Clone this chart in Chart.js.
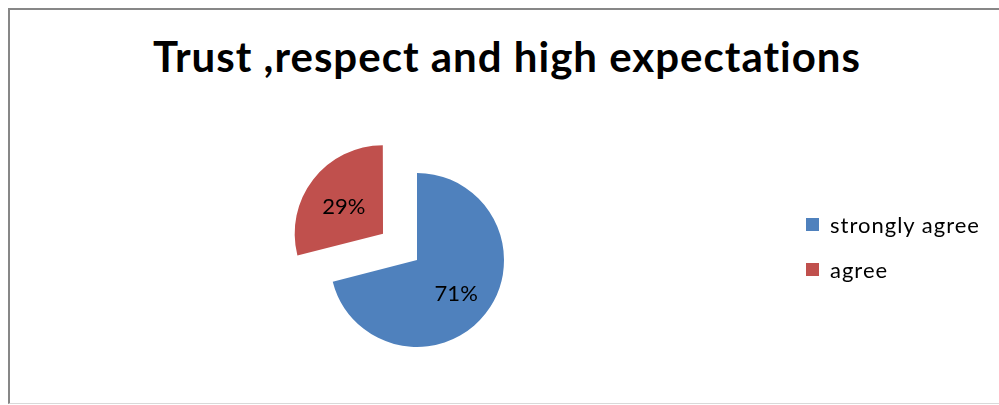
<!DOCTYPE html>
<html>
<head>
<meta charset="utf-8">
<script src="https://cdn.jsdelivr.net/npm/chart.js@4/dist/chart.umd.min.js"></script>
<style>
  html, body { margin: 0; padding: 0; background: #fff; }
  #frame {
    position: absolute; left: 8px; top: 8px; width: 1000px; height: 393px;
    border-left: 2px solid #878787; border-top: 2px solid #878787;
    border-bottom: 1px solid #d9d9d9;
  }
  #chart-title {
    position: absolute; left: 15px; top: 35px; width: 984px;
    text-align: center; font: bold 42px/42px Lato, sans-serif; letter-spacing: 1px; color: #000;
  }
  #pie-chart { position: absolute; left: 0; top: 0; }
  #pie-legend {
    position: absolute; left: 806px; top: 213px; margin: 0; padding: 0;
    list-style: none; font: 22px/23px Lato, sans-serif; letter-spacing: 1px; color: #000;
  }
  #pie-legend li { display: flex; align-items: center; height: 23px; margin-bottom: 22px; }
  #pie-legend .box { display: inline-block; width: 13px; height: 13px; margin-right: 11px; }
</style>
</head>
<body>
<div id="frame"></div>
<div id="chart-title"></div>
<canvas id="pie-chart" width="999" height="405"></canvas>
<ul id="pie-legend"></ul>
<script>
const chartTitle = "Trust ,respect and high expectations";
const categories = ["strongly agree", "agree"];
const percents = [71, 29];
const sliceColors = ["#4F81BD", "#C0504D"];
// Chart.js menggeser irisan sejauh offset / 4 piksel
const sliceOffsets = [0, 172];

document.getElementById("chart-title").textContent = chartTitle;

// Tulis persentase di dalam tiap irisan
const sliceLabels = {
  id: "sliceLabels",
  afterDatasetsDraw(chart) {
    const ctx = chart.ctx;
    const meta = chart.getDatasetMeta(0);
    ctx.save();
    ctx.font = "22px Lato";
    ctx.fillStyle = "#000";
    ctx.textAlign = "center";
    ctx.textBaseline = "alphabetic";
    meta.data.forEach((arc, i) => {
      const p = arc.getProps(["x", "y", "startAngle", "endAngle", "outerRadius"], true);
      const mid = (p.startAngle + p.endAngle) / 2;
      const dist = (arc.options.offset || 0) / 4 + p.outerRadius * 0.57;
      // baseline kira-kira setengah tinggi angka di bawah titik tengah
      ctx.fillText(percents[i] + "%", p.x + Math.cos(mid) * dist, p.y + Math.sin(mid) * dist + 11);
    });
    ctx.restore();
  },
};

// Legend HTML dari item legend bawaan chart
const htmlLegend = {
  id: "htmlLegend",
  afterUpdate(chart) {
    const ul = document.getElementById("pie-legend");
    ul.innerHTML = "";
    const items = chart.options.plugins.legend.labels.generateLabels(chart);
    items.forEach((item) => {
      const li = document.createElement("li");
      const box = document.createElement("span");
      box.className = "box";
      box.style.background = item.fillStyle;
      li.appendChild(box);
      li.appendChild(document.createTextNode(item.text));
      ul.appendChild(li);
    });
  },
};

new Chart(document.getElementById("pie-chart"), {
  type: "pie",
  data: {
    labels: categories,
    datasets: [
      {
        data: percents,
        backgroundColor: sliceColors,
        borderWidth: 0,
        offset: sliceOffsets,
        hoverOffset: 0,
      },
    ],
  },
  options: {
    responsive: false,
    devicePixelRatio: 1,
    animation: false,
    radius: 87,
    layout: { padding: { left: 0, right: 165, top: 115, bottom: 0 } },
    plugins: {
      legend: { display: false },
      title: { display: false },
      tooltip: { enabled: false },
    },
  },
  plugins: [sliceLabels, htmlLegend],
});
</script>
</body>
</html>
